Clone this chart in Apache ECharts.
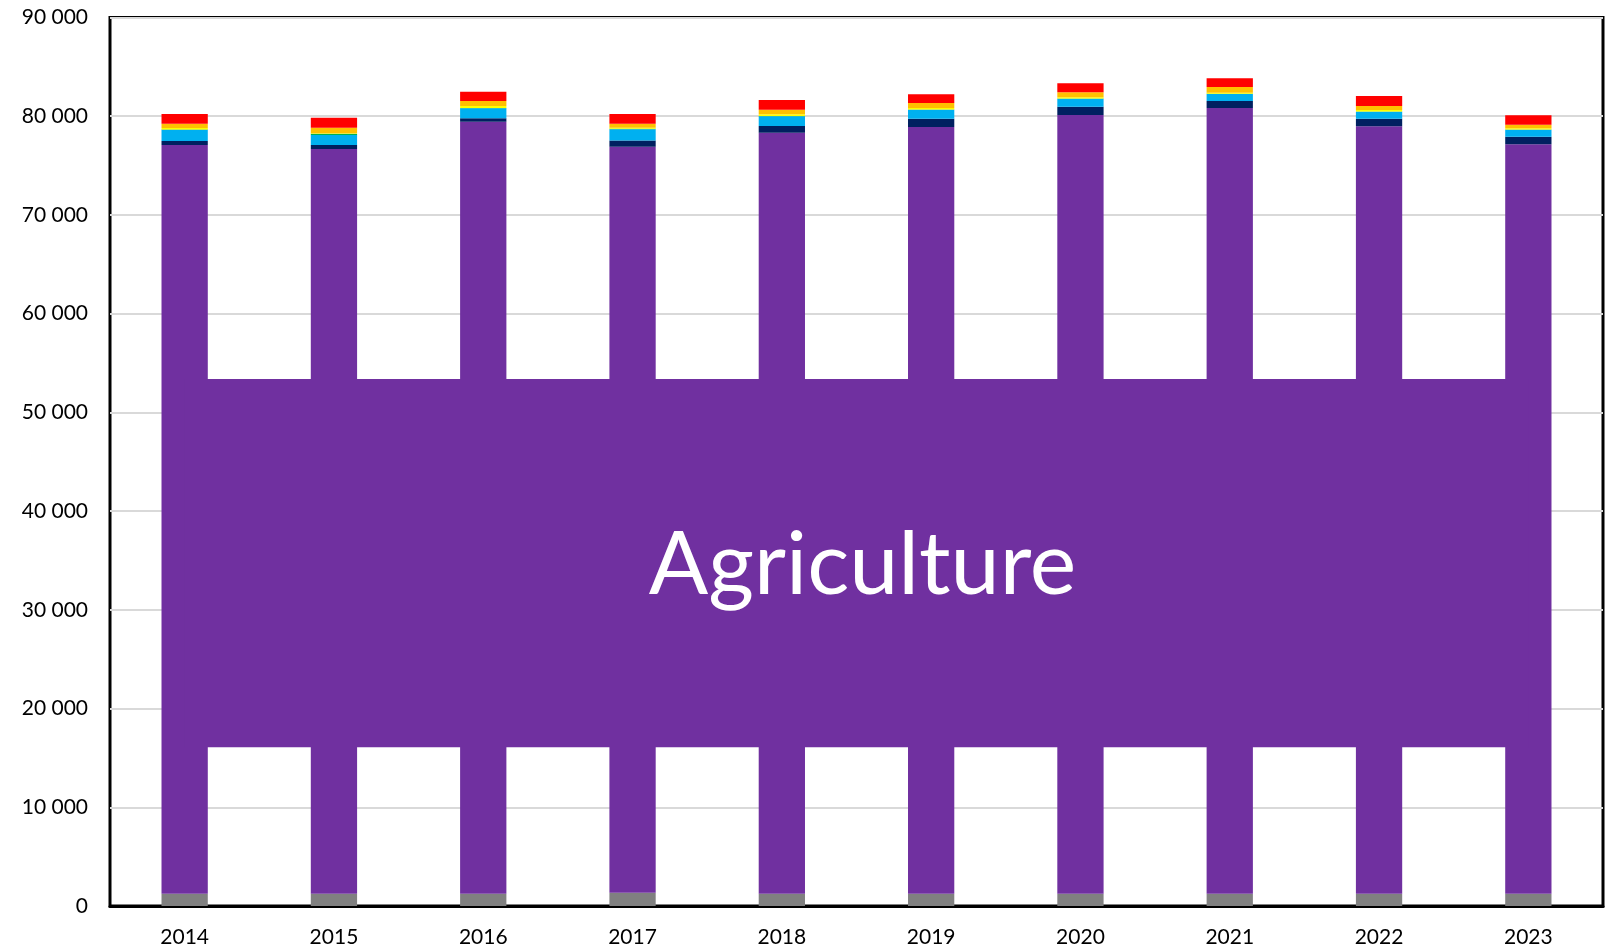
<!DOCTYPE html>
<html>
<head>
<meta charset="utf-8">
<script src="https://cdn.jsdelivr.net/npm/echarts@6/dist/echarts.min.js"></script>
<style>
html,body{margin:0;padding:0;background:#fff;}
#chart{width:1612px;height:950px;}
</style>
</head>
<body>
<div id="chart"></div>
<script>
const years = ['2014','2015','2016','2017','2018','2019','2020','2021','2022','2023'];
const gray      = [1250, 1250, 1250, 1350, 1250, 1250, 1250, 1250, 1250, 1250];
const purple    = [75830, 75430, 78200, 75570, 77080, 77660, 78880, 79580, 77730, 75910];
const navy      = [410, 400, 340, 630, 670, 840, 840, 710, 770, 770];
const lightBlue = [1110, 1020, 1010, 1130, 990, 910, 800, 710, 710, 700];
const green     = [50, 120, 30, 50, 30, 30, 30, 30, 30, 30];
const yellow    = [150, 50, 200, 100, 180, 140, 110, 110, 140, 110];
const orange    = [450, 570, 510, 420, 460, 510, 510, 570, 410, 370];
const red       = [980, 1010, 950, 980, 990, 880, 910, 880, 1010, 950];
const overlayLabel = 'Agriculture';
const overlayRange = [16070, 53380];
const yTicks = {min: 0, max: 90000, interval: 10000};

const colors = {
  gray: '#808080', purple: '#7030a0', navy: '#002060', lightBlue: '#00b0f0',
  green: '#00b050', yellow: '#ffff00', orange: '#ffc000', red: '#ff0000'
};
const FONT = 'Lato';

function barSeries(name, data, color) {
  return {
    name: name, type: 'bar', stack: 'total', data: data, barWidth: '31%',
    itemStyle: {color: color}, z: 2, animation: false
  };
}

const chart = echarts.init(document.getElementById('chart'), null, {renderer: 'canvas'});
chart.setOption({
  animation: false,
  grid: {left: 110, right: 9, top: 17.5, bottom: 44, show: true, borderColor: '#000', borderWidth: 3, backgroundColor: 'transparent'},
  xAxis: {
    type: 'category', data: years, boundaryGap: true,
    axisLine: {show: true, lineStyle: {color: '#000', width: 3}},
    axisTick: {show: false},
    axisLabel: {color: '#000', fontSize: 21, fontFamily: FONT, margin: 21}
  },
  yAxis: {
    type: 'value', min: yTicks.min, max: yTicks.max, interval: yTicks.interval,
    axisLine: {show: false}, axisTick: {show: false},
    splitLine: {show: true, lineStyle: {color: '#d9d9d9', width: 2}},
    axisLabel: {
      color: '#000', fontSize: 21, fontFamily: FONT, margin: 22,
      formatter: function (v) { return String(v).replace(/\B(?=(\d{3})+(?!\d))/g, ' '); }
    }
  },
  series: [
    barSeries('Gray', gray, colors.gray),
    barSeries('Agriculture', purple, colors.purple),
    barSeries('Navy', navy, colors.navy),
    barSeries('Light blue', lightBlue, colors.lightBlue),
    barSeries('Green', green, colors.green),
    barSeries('Yellow', yellow, colors.yellow),
    barSeries('Orange', orange, colors.orange),
    barSeries('Red', red, colors.red),
    {
      name: 'overlay', type: 'line', data: [], z: 10, silent: true,
      markArea: {
        silent: true, z: 10,
        itemStyle: {color: colors.purple, opacity: 1},
        label: {show: true, position: 'inside', offset: [6, 2], formatter: overlayLabel, color: '#fff', fontSize: 88, fontFamily: FONT},
        data: [[{xAxis: years[0], yAxis: overlayRange[0]}, {xAxis: years[years.length - 1], yAxis: overlayRange[1]}]]
      }
    }
  ]
});
</script>
</body>
</html>
